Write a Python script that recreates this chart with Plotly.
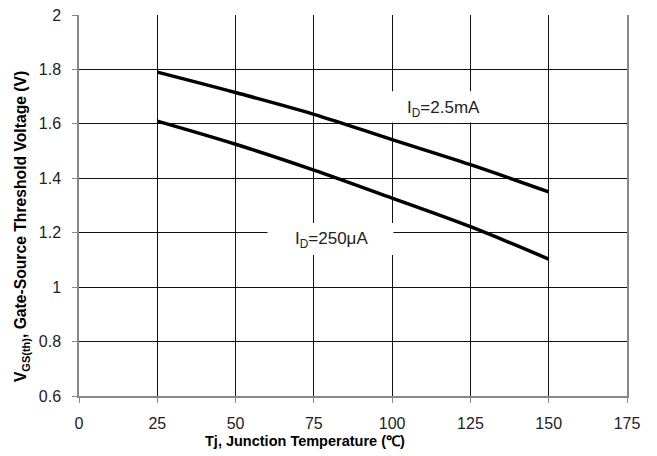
import plotly.graph_objects as go

temps = [25, 50, 75, 100, 125, 150]
vth_2p5mA = [1.79, 1.715, 1.635, 1.542, 1.45, 1.35]
vth_250uA = [1.61, 1.525, 1.43, 1.327, 1.222, 1.103]

x_ticks = [0, 25, 50, 75, 100, 125, 150, 175]
y_ticks = [0.6, 0.8, 1.0, 1.2, 1.4, 1.6, 1.8, 2.0]
y_tick_text = ["0.6", "0.8", "1", "1.2", "1.4", "1.6", "1.8", "2"]

label_2p5mA = "I<sub>D</sub>=2.5mA"
label_250uA = "I<sub>D</sub>=250μA"
x_title = "<b>Tj, Junction Temperature (℃)</b>"
y_title = "<b>V<sub>GS(th)</sub>, Gate-Source Threshold Voltage (V)</b>"

tick_font = dict(family="Liberation Sans Narrow, Liberation Sans, Arial", size=16, color="#222222")

fig = go.Figure()
fig.add_trace(go.Scatter(x=temps, y=vth_2p5mA, mode="lines",
                         line=dict(color="black", width=3.5, shape="spline"),
                         showlegend=False, hoverinfo="skip"))
fig.add_trace(go.Scatter(x=temps, y=vth_250uA, mode="lines",
                         line=dict(color="black", width=3.5, shape="spline"),
                         showlegend=False, hoverinfo="skip"))

# white label boxes interrupting the gridlines
fig.add_shape(type="rect", x0=97, x1=136, y0=1.605, y1=1.72, xref="x", yref="y",
              fillcolor="white", line=dict(width=0), layer="between")
fig.add_shape(type="rect", x0=60.2, x1=100.4, y0=1.118, y1=1.236, xref="x", yref="y",
              fillcolor="white", line=dict(width=0), layer="between")

fig.add_annotation(x=116.5, y=1.655, text=label_2p5mA, showarrow=False,
                   font=dict(family="Liberation Sans, Arial", size=17, color="#222222"))
fig.add_annotation(x=80.5, y=1.175, text=label_250uA, showarrow=False,
                   font=dict(family="Liberation Sans, Arial", size=17, color="#222222"))

# axis titles placed as in the reference (both offset from plot centre)
fig.add_annotation(x=0.412, y=-0.118, xref="paper", yref="paper", text=x_title,
                   showarrow=False, xanchor="center", yanchor="middle",
                   font=dict(family="Liberation Sans, Arial", size=14.5, color="#000000"))
fig.add_annotation(x=-0.1035, y=0.444, xref="paper", yref="paper", text=y_title,
                   showarrow=False, xanchor="center", yanchor="middle", textangle=-90,
                   font=dict(family="Liberation Sans, Arial", size=15.7, color="#000000"))

fig.update_xaxes(range=[0, 175], tickvals=x_ticks, ticktext=[str(v) for v in x_ticks],
                 showgrid=True, gridcolor="#111111", gridwidth=1,
                 showline=True, linecolor="#888888", linewidth=1.5,
                 ticks="outside", ticklen=5, tickcolor="#888888", tickwidth=1,
                 ticklabelstandoff=7, automargin=False,
                 tickfont=tick_font, zeroline=False)
fig.update_yaxes(range=[0.6, 2.0], tickvals=y_ticks, ticktext=y_tick_text,
                 showgrid=True, gridcolor="#111111", gridwidth=1,
                 showline=True, linecolor="#888888", linewidth=1.5, mirror=True,
                 ticks="outside", ticklen=5, tickcolor="#888888", tickwidth=1,
                 ticklabelstandoff=8, automargin=False,
                 tickfont=tick_font, zeroline=False)

fig.update_layout(width=657, height=456, plot_bgcolor="white", paper_bgcolor="white",
                  margin=dict(l=79, r=30, t=15, b=60))

fig.write_html("out.html")
